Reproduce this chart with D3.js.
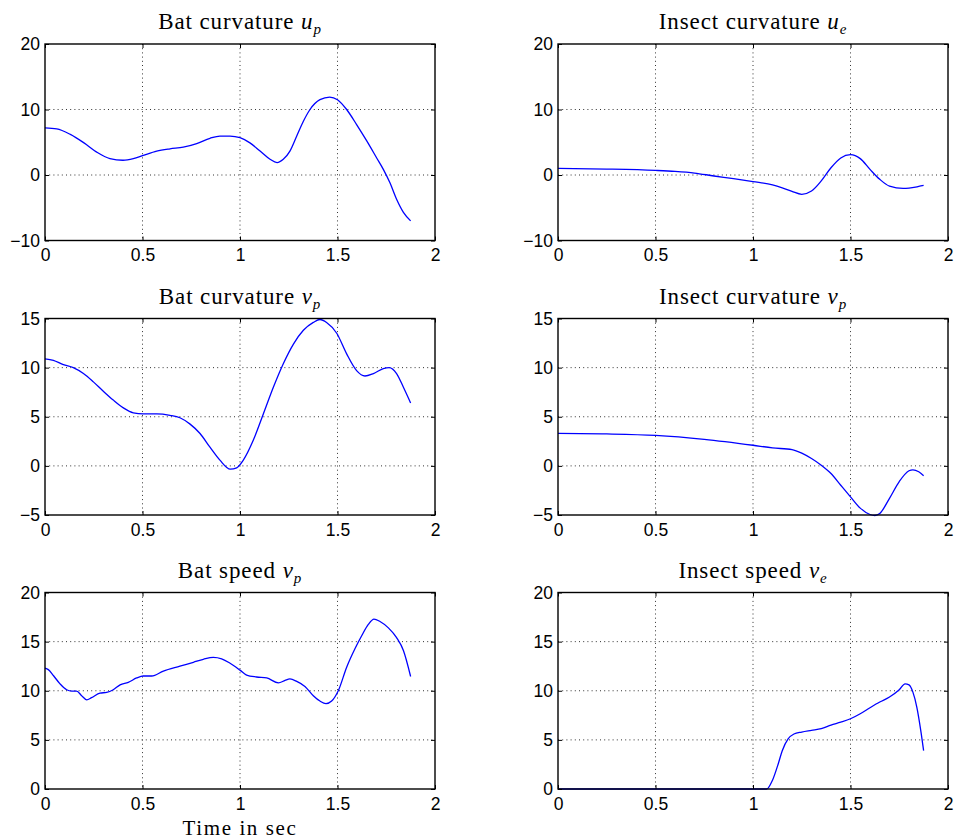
<!DOCTYPE html>
<html>
<head>
<meta charset="utf-8">
<script src="https://cdn.jsdelivr.net/npm/d3@7"></script>
<style>
  html, body { margin: 0; padding: 0; background: #fff; }
  svg { display: block; }
</style>
</head>
<body>
<svg id="fig" width="957" height="840"></svg>
<script>
// ---- data: time (s) and value samples for each trace ----
const batUTime = [0, 0.06, 0.13, 0.2, 0.265, 0.333, 0.4, 0.453, 0.504, 0.573, 0.641, 0.709, 0.778, 0.846, 0.897, 0.949, 1.0, 1.051, 1.103, 1.154, 1.19, 1.222, 1.256, 1.291, 1.325, 1.359, 1.41, 1.46, 1.5, 1.547, 1.598, 1.65, 1.701, 1.735, 1.769, 1.803, 1.838, 1.875];
const batUValues = [7.2, 7.05, 6.2, 4.9, 3.5, 2.5, 2.25, 2.5, 3.0, 3.65, 4.0, 4.25, 4.8, 5.6, 5.95, 5.95, 5.7, 4.9, 3.65, 2.4, 1.9, 2.4, 3.65, 5.95, 8.2, 10.0, 11.5, 11.9, 11.5, 10.0, 7.7, 5.2, 2.6, 0.86, -1.2, -3.7, -5.7, -7.0];

const insectUTime = [0, 0.25, 0.5, 0.6, 0.7, 0.8, 0.9, 1.0, 1.1, 1.15, 1.2, 1.25, 1.3, 1.35, 1.4, 1.45, 1.5, 1.55, 1.6, 1.65, 1.7, 1.77, 1.8, 1.85, 1.875];
const insectUValues = [1.0, 0.9, 0.7, 0.55, 0.3, -0.15, -0.55, -1.0, -1.5, -1.95, -2.5, -2.95, -2.45, -0.9, 1.1, 2.6, 3.1, 2.5, 0.86, -0.66, -1.7, -2.05, -2.0, -1.75, -1.6];

const batVTime = [0, 0.043, 0.094, 0.145, 0.197, 0.248, 0.299, 0.35, 0.402, 0.453, 0.504, 0.573, 0.641, 0.692, 0.744, 0.795, 0.846, 0.897, 0.95, 0.983, 1.017, 1.068, 1.12, 1.171, 1.222, 1.274, 1.325, 1.376, 1.41, 1.444, 1.496, 1.547, 1.598, 1.641, 1.684, 1.735, 1.765, 1.803, 1.838, 1.875];
const batVValues = [10.9, 10.75, 10.3, 10.0, 9.4, 8.55, 7.6, 6.7, 5.9, 5.4, 5.3, 5.3, 5.15, 4.9, 4.25, 3.3, 1.9, 0.58, -0.34, -0.2, 0.58, 2.6, 5.3, 8.0, 10.4, 12.4, 13.8, 14.6, 14.9, 14.6, 13.5, 11.4, 9.7, 9.15, 9.4, 9.9, 10.0, 9.4, 8.0, 6.4];

const insectVTime = [0, 0.25, 0.5, 0.75, 1.0, 1.1, 1.2, 1.25, 1.3, 1.35, 1.4, 1.45, 1.5, 1.55, 1.6, 1.625, 1.65, 1.7, 1.75, 1.8, 1.82, 1.85, 1.875];
const insectVValues = [3.3, 3.25, 3.1, 2.7, 2.1, 1.83, 1.66, 1.3, 0.75, 0.07, -0.78, -1.97, -3.15, -4.3, -4.95, -5.05, -4.85, -3.3, -1.6, -0.5, -0.4, -0.6, -1.0];

const batSpeedTime = [0, 0.017, 0.043, 0.077, 0.111, 0.137, 0.162, 0.188, 0.214, 0.239, 0.282, 0.316, 0.35, 0.385, 0.427, 0.47, 0.504, 0.547, 0.607, 0.692, 0.761, 0.812, 0.863, 0.906, 0.949, 1.0, 1.034, 1.085, 1.137, 1.197, 1.231, 1.256, 1.291, 1.333, 1.376, 1.41, 1.441, 1.47, 1.504, 1.547, 1.59, 1.624, 1.658, 1.687, 1.718, 1.761, 1.803, 1.838, 1.875];
const batSpeedValues = [12.3, 12.15, 11.55, 10.7, 10.1, 9.97, 9.97, 9.5, 9.08, 9.3, 9.76, 9.83, 10.1, 10.6, 10.85, 11.3, 11.5, 11.5, 12.0, 12.5, 12.9, 13.2, 13.4, 13.25, 12.8, 12.1, 11.6, 11.4, 11.3, 10.8, 11.05, 11.2, 10.95, 10.44, 9.5, 8.95, 8.68, 8.95, 10.0, 12.4, 14.3, 15.6, 16.75, 17.3, 17.05, 16.4, 15.4, 14.1, 11.45];

const insectSpeedTime = [0, 0.5, 1.0, 1.07, 1.1, 1.13, 1.15, 1.18, 1.21, 1.25, 1.3, 1.35, 1.4, 1.45, 1.5, 1.55, 1.6, 1.65, 1.7, 1.75, 1.78, 1.8, 1.82, 1.84, 1.86, 1.875];
const insectSpeedValues = [0, 0, 0, 0, 0.9, 2.6, 3.9, 5.1, 5.6, 5.8, 5.97, 6.14, 6.5, 6.8, 7.15, 7.66, 8.27, 8.85, 9.36, 10.1, 10.7, 10.6, 9.86, 8.34, 6.0, 3.9];

// ---- axis tick values ----
const xTicks = [0, 0.5, 1, 1.5, 2];
const yTicksCurvU = [-10, 0, 10, 20];
const yTicksCurvV = [-5, 0, 5, 10, 15];
const yTicksSpeed = [0, 5, 10, 15, 20];

// ---- panel definitions (title parts: plain text, italic symbol, subscript) ----
const panels = [
  { row: 0, col: 0, title: ["Bat curvature ", "u", "p"], t: batUTime, v: batUValues, yTicks: yTicksCurvU },
  { row: 0, col: 1, title: ["Insect curvature ", "u", "e"], t: insectUTime, v: insectUValues, yTicks: yTicksCurvU },
  { row: 1, col: 0, title: ["Bat curvature ", "v", "p"], t: batVTime, v: batVValues, yTicks: yTicksCurvV },
  { row: 1, col: 1, title: ["Insect curvature ", "v", "p"], t: insectVTime, v: insectVValues, yTicks: yTicksCurvV },
  { row: 2, col: 0, title: ["Bat speed ", "\u03BD", "p"], t: batSpeedTime, v: batSpeedValues, yTicks: yTicksSpeed, xlabel: "Time in sec" },
  { row: 2, col: 1, title: ["Insect speed ", "\u03BD", "e"], t: insectSpeedTime, v: insectSpeedValues, yTicks: yTicksSpeed }
];

// ---- layout ----
const colLeft = [45, 558];
const rowTop = [44, 318.5, 592.5];
const plotW = 390, plotH = 196.5;
const tickLen = 4;
const serif = "'Liberation Serif', 'DejaVu Serif', serif";
const sans = "'Liberation Sans', Arial, sans-serif";

const svg = d3.select("#fig");

panels.forEach(p => {
  const x0 = colLeft[p.col], y0 = rowTop[p.row];
  const g = svg.append("g").attr("transform", `translate(${x0},${y0})`);

  const x = d3.scaleLinear().domain([0, 2]).range([0, plotW]);
  const yDom = d3.extent(p.yTicks);
  const y = d3.scaleLinear().domain(yDom).range([plotH, 0]);

  // dotted grid at interior ticks
  g.append("g").selectAll("line.gx")
    .data(xTicks.slice(1, -1)).join("line")
    .attr("x1", d => x(d)).attr("x2", d => x(d))
    .attr("y1", 0).attr("y2", plotH)
    .attr("stroke", "#333").attr("stroke-width", 1).attr("stroke-dasharray", "1,3.2");
  g.append("g").selectAll("line.gy")
    .data(p.yTicks.slice(1, -1)).join("line")
    .attr("y1", d => y(d)).attr("y2", d => y(d))
    .attr("x1", 0).attr("x2", plotW)
    .attr("stroke", "#333").attr("stroke-width", 1).attr("stroke-dasharray", "1,3.2");

  // data trace
  const pts = p.t.map((t, i) => [t, p.v[i]]);
  const line = d3.line()
    .x(d => x(d[0])).y(d => y(d[1]))
    .curve(d3.curveMonotoneX);
  g.append("path").datum(pts)
    .attr("d", line)
    .attr("fill", "none").attr("stroke", "#0000ff").attr("stroke-width", 1.3);

  // axes: labelled bottom/left, inward ticks on all four sides
  const fmt = d => d3.format("")(d);
  const xAxisB = d3.axisBottom(x).tickValues(xTicks).tickSizeInner(-tickLen).tickSizeOuter(0).tickPadding(8).tickFormat(fmt);
  const xAxisT = d3.axisTop(x).tickValues(xTicks).tickSizeInner(-tickLen).tickSizeOuter(0).tickFormat("");
  const yAxisL = d3.axisLeft(y).tickValues(p.yTicks).tickSizeInner(-tickLen).tickSizeOuter(0).tickPadding(5).tickFormat(fmt);
  const yAxisR = d3.axisRight(y).tickValues(p.yTicks).tickSizeInner(-tickLen).tickSizeOuter(0).tickFormat("");

  const styleAxis = sel => {
    sel.select(".domain").remove();
    sel.selectAll(".tick line").attr("stroke", "#000").attr("stroke-width", 1);
    sel.selectAll(".tick text").attr("fill", "#000")
      .style("font-family", sans).style("font-size", "17.5px");
  };
  g.append("g").attr("transform", `translate(0,${plotH})`).call(xAxisB).call(styleAxis)
    .selectAll(".tick text").attr("dy", "0.72em");
  g.append("g").call(xAxisT).call(styleAxis);
  g.append("g").call(yAxisL).call(styleAxis);
  g.append("g").attr("transform", `translate(${plotW},0)`).call(yAxisR).call(styleAxis);

  // box
  g.append("rect").attr("x", 0).attr("y", 0).attr("width", plotW).attr("height", plotH)
    .attr("fill", "none").attr("stroke", "#000").attr("stroke-width", 1.4);

  // title
  const title = g.append("text")
    .attr("x", plotW / 2).attr("y", -15)
    .attr("text-anchor", "middle")
    .style("font-family", serif).style("font-size", "23px")
    .style("letter-spacing", "0.9px").attr("fill", "#000");
  title.append("tspan").text(p.title[0]);
  title.append("tspan").style("font-style", "italic").text(p.title[1]);
  title.append("tspan").attr("dy", 5).style("font-style", "italic").style("font-size", "15px").text(p.title[2]);

  if (p.xlabel) {
    g.append("text")
      .attr("x", plotW / 2).attr("y", plotH + 45.5)
      .attr("text-anchor", "middle")
      .style("font-family", serif).style("font-size", "21px")
      .style("letter-spacing", "1.6px").attr("fill", "#000")
      .text(p.xlabel);
  }
});
</script>
</body>
</html>
